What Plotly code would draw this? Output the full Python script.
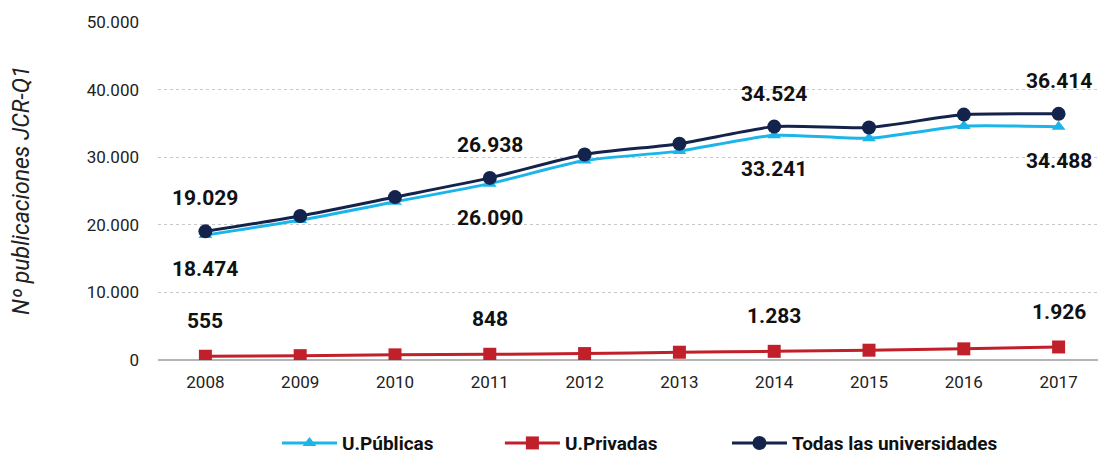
import plotly.graph_objects as go

# Data
years = [2008, 2009, 2010, 2011, 2012, 2013, 2014, 2015, 2016, 2017]
publicas = [18474, 20700, 23400, 26090, 29500, 30900, 33241, 32800, 34600, 34488]
privadas = [555, 640, 760, 848, 950, 1150, 1283, 1450, 1650, 1926]
todas = [19029, 21300, 24100, 26938, 30400, 32000, 34524, 34400, 36300, 36414]
label_years = [2008, 2011, 2014, 2017]

FONT = "Roboto, Liberation Sans, sans-serif"
C_PUB = "#1cb5ea"
C_PRI = "#c1202b"
C_TOD = "#14234b"


def fmt(v):
    return f"{v:,}".replace(",", ".")


fig = go.Figure()

fig.add_trace(go.Scatter(x=years, y=publicas, name="<b>U.Públicas</b>",
                         mode="lines+markers", legend="legend",
                         line=dict(color=C_PUB, width=3, shape="spline", smoothing=0.6),
                         marker=dict(symbol="triangle-up", size=12, color=C_PUB)))
fig.add_trace(go.Scatter(x=years, y=privadas, name="<b>U.Privadas</b>",
                         mode="lines+markers", legend="legend2",
                         line=dict(color=C_PRI, width=3, shape="spline", smoothing=0.6),
                         marker=dict(symbol="square", size=13, color=C_PRI)))
fig.add_trace(go.Scatter(x=years, y=todas, name="<b>Todas las universidades</b>",
                         mode="lines+markers", legend="legend3",
                         line=dict(color=C_TOD, width=3, shape="spline", smoothing=0.6),
                         marker=dict(symbol="circle", size=14, color=C_TOD)))

# value labels
annots = []
for yr in label_years:
    i = years.index(yr)
    annots.append(dict(x=yr, y=todas[i], text="<b>" + fmt(todas[i]) + "</b>",
                       yshift=33, showarrow=False))
    annots.append(dict(x=yr, y=publicas[i], text="<b>" + fmt(publicas[i]) + "</b>",
                       yshift=-34, showarrow=False))
    annots.append(dict(x=yr, y=privadas[i], text="<b>" + fmt(privadas[i]) + "</b>",
                       yshift=35, showarrow=False))
for a in annots:
    a["font"] = dict(family=FONT, size=21, color="#111111")

annots.append(dict(xref="paper", yref="paper", x=-0.1435, y=0.503,
                   xanchor="center", yanchor="middle",
                   text="<i>Nº publicaciones JCR-Q1</i>", textangle=-90,
                   showarrow=False, font=dict(family=FONT, size=23, color="#222222")))

leg = dict(orientation="h", xref="container", yref="container",
           xanchor="left", yanchor="middle", y=0.031,
           font=dict(family=FONT, size=19, color="#111111"), itemwidth=55,
           bgcolor="rgba(0,0,0,0)")

fig.update_layout(
    width=1098, height=449,
    margin=dict(l=150, r=0, t=14, b=97),
    plot_bgcolor="white", paper_bgcolor="white",
    separators=",.",
    font=dict(family=FONT, color="#222222"),
    showlegend=True,
    legend=dict(leg, x=0.245),
    legend2=dict(leg, x=0.448),
    legend3=dict(leg, x=0.6548),
    annotations=annots,
)
fig.update_xaxes(range=[2007.5, 2017.5], tickmode="array", tickvals=years,
                 ticktext=[str(y) for y in years], showgrid=False,
                 showline=False, tickfont=dict(family=FONT, size=17, color="#222222"),
                 ticks="", zeroline=False, ticklabelstandoff=10)
fig.update_yaxes(range=[0, 50000], dtick=10000, tickformat=",.0f",
                 showgrid=True, gridcolor="#c8c8c8", griddash="dot", gridwidth=1,
                 zeroline=True, zerolinecolor="#b4b4b4", zerolinewidth=2,
                 tickfont=dict(family=FONT, size=17, color="#222222"),
                 ticklabelstandoff=18)

fig.write_html("out.html")
